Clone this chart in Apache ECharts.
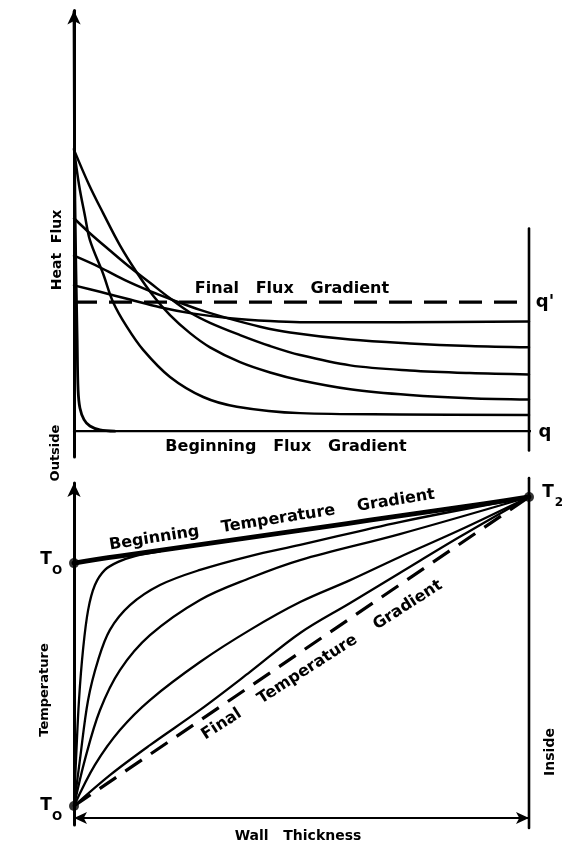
<!DOCTYPE html>
<html><head><meta charset="utf-8">
<script src="https://cdn.jsdelivr.net/npm/echarts@6/dist/echarts.min.js"></script>
<style>html,body{margin:0;padding:0;background:#fff}#c{width:562px;height:845px}</style>
</head><body><div id="c"></div>
<script>
// ---------- DATA (x = fraction of wall thickness; top: flux relative to q' (q=0, q'=1); bottom: temperature fraction T0=0, T2=1)
const finalFlux      = [[0,1],[1,1]];
const beginningFluxLine = [[0,0],[1.012,0]];
const beginningFlux  = [[0,3.25],[0.002,1.79],[0.007,0.70],[0.009,0.32],[0.013,0.18],[0.022,0.09],[0.035,0.04],[0.057,0.01],[0.09,0]];
const fluxCurve1 = [[0,1.13],[0.057,1.08],[0.123,1.02],[0.189,0.96],[0.255,0.915],[0.343,0.876],[0.431,0.853],[0.497,0.845],[0.716,0.845],[1,0.85]];
const fluxCurve2 = [[0,1.36],[0.057,1.27],[0.112,1.17],[0.167,1.085],[0.222,1.01],[0.277,0.94],[0.343,0.87],[0.409,0.81],[0.475,0.765],[0.607,0.71],[0.738,0.68],[0.87,0.66],[1,0.65]];
const fluxCurve3 = [[0,1.65],[0.033,1.54],[0.079,1.40],[0.123,1.27],[0.167,1.15],[0.211,1.03],[0.255,0.92],[0.299,0.84],[0.365,0.745],[0.431,0.66],[0.497,0.59],[0.607,0.51],[0.738,0.47],[0.87,0.45],[1,0.44]];
const fluxCurve4 = [[0,2.18],[0.033,1.91],[0.064,1.69],[0.101,1.44],[0.138,1.23],[0.174,1.05],[0.211,0.90],[0.255,0.76],[0.299,0.65],[0.365,0.535],[0.431,0.455],[0.497,0.395],[0.607,0.325],[0.738,0.28],[0.87,0.255],[1,0.245]];
const fluxCurve5 = [[0,2.19],[0.011,1.91],[0.024,1.67],[0.035,1.48],[0.064,1.22],[0.086,1.0],[0.116,0.81],[0.152,0.63],[0.211,0.42],[0.284,0.265],[0.358,0.19],[0.497,0.14],[0.716,0.13],[1,0.125]];
const rightWallTop = [[1,-0.15],[1,1.57]];

const beginningTemp = [[0,0.786],[0.05,0.798],[0.1,0.809],[0.2,0.830],[0.3,0.851],[0.4,0.872],[0.5,0.893],[0.6,0.914],[0.7,0.936],[0.8,0.957],[0.9,0.978],[1,1]];
const finalTemp = [[0,0],[1,1]];
const tempA = [[0,0],[0.0044,0.149],[0.011,0.343],[0.0198,0.505],[0.031,0.634],[0.046,0.715],[0.068,0.764],[0.097,0.79],[0.134,0.809],[0.189,0.824]];
const tempB = [[0,0],[0.013,0.149],[0.031,0.343],[0.053,0.472],[0.079,0.57],[0.123,0.65],[0.189,0.715],[0.277,0.764],[0.387,0.809],[0.497,0.845],[0.716,0.919],[1,1]];
const tempC = [[0,0],[0.024,0.15],[0.057,0.31],[0.101,0.44],[0.167,0.553],[0.277,0.667],[0.387,0.738],[0.497,0.796],[0.716,0.88],[1,1]];
const tempD = [[0,0],[0.046,0.133],[0.101,0.246],[0.167,0.343],[0.277,0.466],[0.387,0.57],[0.497,0.66],[0.607,0.731],[0.716,0.806],[0.848,0.893],[1,1]];
const tempE = [[0,0],[0.079,0.10],[0.167,0.197],[0.277,0.311],[0.387,0.434],[0.497,0.56],[0.607,0.657],[0.716,0.754],[0.848,0.871],[1,1]];
const tempPoints = [[0,0.786],[0,0],[1,1]];
const rightWallBottom = [[1,-0.071],[1,1.061]];
const wallAxisLevel = -0.039;

// ---------- CHART
const FONT = 'DejaVu Sans';
const chart = echarts.init(document.getElementById('c'), null, {renderer:'canvas'});
function line(data, gi, w, extra){
  return Object.assign({type:'line', xAxisIndex:gi, yAxisIndex:gi, data:data, showSymbol:false, symbol:'none',
    smooth:0.35, clip:false, silent:true, lineStyle:{color:'#000', width:w, cap:'round', join:'round'}}, extra||{});
}
function txt(x,y,text,size,rot){
  return {type:'text', x:x, y:y, rotation:rot||0, silent:true,
    style:{text:text, fill:'#000', fontSize:size, fontWeight:'bold', fontFamily:FONT,
      align:'center', verticalAlign:'middle', textAlign:'center', textVerticalAlign:'middle'}};
}
const axisStyle = (arrow)=>({show:true, onZero:false, symbol:arrow, symbolSize:[10,14],
  lineStyle:{color:'#000', width:3}});
const option = {
  animation:false,
  backgroundColor:'#fff',
  grid:[
    {left:74, right:33, top:10.5, bottom:388},
    {left:74, right:33, top:483, bottom:20}
  ],
  xAxis:[
    {type:'value', gridIndex:0, min:0, max:1, show:false},
    {type:'value', gridIndex:1, min:0, max:1, show:false}
  ],
  yAxis:[
    {type:'value', gridIndex:0, min:-0.2, max:3.26, axisLine:axisStyle(['none','arrow']),
      axisTick:{show:false}, axisLabel:{show:false}, splitLine:{show:false}},
    {type:'value', gridIndex:1, min:-0.0615, max:1.0453, axisLine:axisStyle(['none','arrow']),
      axisTick:{show:false}, axisLabel:{show:false}, splitLine:{show:false}}
  ],
  series:[
    line(beginningFluxLine,0,2.2,{smooth:false}),
    line(rightWallTop,0,2.6,{smooth:false}),
    line(finalFlux,0,3.2,{smooth:false, lineStyle:{color:'#000', width:3.2, type:[23,12], cap:'butt'}}),
    line(beginningFlux,0,2.8),
    line(fluxCurve1,0,2.5),
    line(fluxCurve2,0,2.5),
    line(fluxCurve3,0,2.5),
    line(fluxCurve4,0,2.5),
    line(fluxCurve5,0,2.5),

    line(rightWallBottom,1,2.6,{smooth:false,
      markLine:{silent:true, symbol:['arrow','arrow'], symbolSize:[9,13], label:{show:false},
        lineStyle:{color:'#000', width:2.2, type:'solid'},
        data:[[{coord:[0,wallAxisLevel]},{coord:[1,wallAxisLevel]}]]}}),
    line(finalTemp,1,3.2,{smooth:false, lineStyle:{color:'#000', width:3.2, type:[20,11], cap:'butt'}}),
    line(tempE,1,2.3),
    line(tempD,1,2.3),
    line(tempC,1,2.3),
    line(tempB,1,2.3),
    line(tempA,1,2.3),
    line(beginningTemp,1,4.8,{smooth:0.2}),
    {type:'scatter', xAxisIndex:1, yAxisIndex:1, data:tempPoints, symbolSize:10, silent:true,
      itemStyle:{color:'#000'}, z:5}
  ],
  graphic:[
    txt(57,250,'Heat  Flux',14,Math.PI/2),
    txt(56,453,'Outside',13,Math.PI/2),
    txt(292,289,'Final   Flux   Gradient',16,0),
    txt(286,447,'Beginning   Flux   Gradient',16,0),
    txt(545,302,"q'",18,0),
    txt(545,432,'q',18,0),
    txt(272,520,'Beginning    Temperature    Gradient',16,0.155),
    txt(322,660,'Final    Temperature    Gradient',16,0.57),
    txt(45,690,'Temperature',13,Math.PI/2),
    txt(550,752,'Inside',14,Math.PI/2),
    txt(298,836,'Wall   Thickness',14,0),
    txt(46,560,'T',17,0), txt(57,571,'O',12,0),
    txt(46,806,'T',17,0), txt(57,817,'O',12,0),
    txt(548,493,'T',17,0), txt(559,503,'2',12,0)
  ]
};
chart.setOption(option);
</script></body></html>
